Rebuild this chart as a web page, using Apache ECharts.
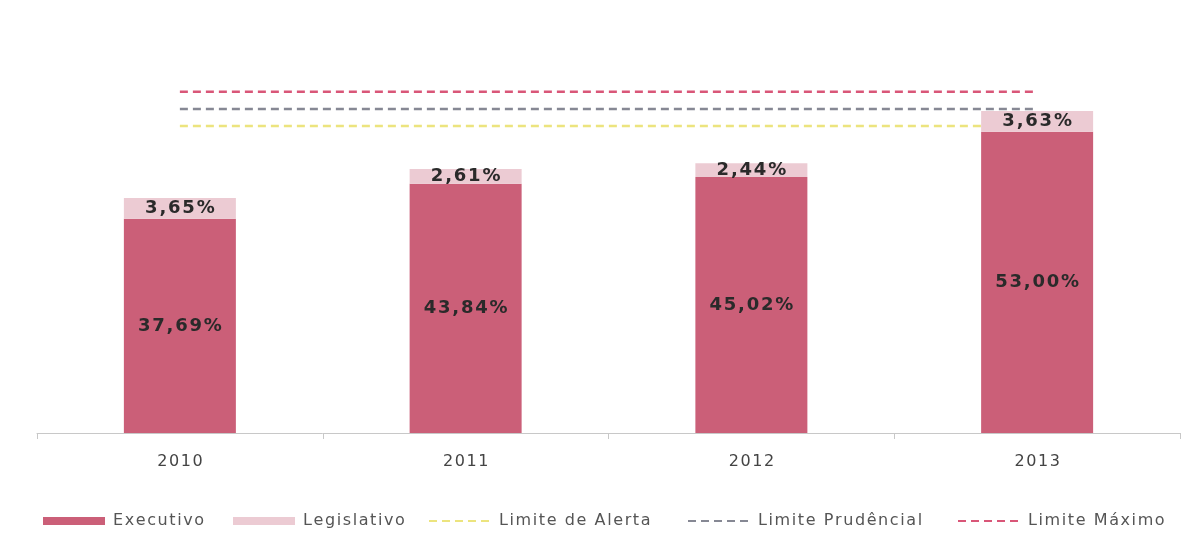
<!DOCTYPE html>
<html>
<head>
	<meta charset="utf-8">
	<title>Despesa com pessoal</title>
	<script src="https://cdn.jsdelivr.net/npm/echarts@6/dist/echarts.min.js"></script>
	<style>
		body { margin: 0; background: #fff; }
	</style>
</head>
<body>
	<div id="main" style="width: 1202px;height: 552px;"></div>
</body>

<script>
	// dados
	var anos = ['2010', '2011', '2012', '2013'];
	var executivo = [37.69, 43.84, 45.02, 53.00];
	var legislativo = [3.65, 2.61, 2.44, 3.63];
	var limiteAlerta = [54, 54, 54, 54];
	var limitePrudencial = [57, 57, 57, 57];
	var limiteMaximo = [60, 60, 60, 60];

	// espaco bem fino entre letras, imita o texto espacado do original
	function espaco(txt) {
		return txt.split('').join('\u200A');
	}
	function pct(v) {
		return espaco(v.toFixed(2).replace('.', ',') + '%');
	}

	var fonte = 'DejaVu Sans';
	var rotulo = {
		show: true,
		position: 'inside',
		color: '#2a2a2a',
		fontFamily: fonte,
		fontWeight: 'bold',
		fontSize: 18,
		formatter: function (p) { return pct(p.value); }
	};

	function linha(nome, dados, cor) {
		return {
			name: nome,
			type: 'line',
			data: dados,
			symbol: 'none',
			z: 1,
			silent: true,
			lineStyle: { color: cor, width: 2.5, type: [8, 5] },
			itemStyle: { color: cor }
		};
	}

	// uma legenda por item, para acertar as posicoes
	function legenda(nome, x, icone) {
		var l = {
			data: [nome],
			left: x,
			top: 508,
			itemWidth: 62,
			itemHeight: 8,
			itemGap: 0,
			textStyle: { color: '#555', fontFamily: fonte, fontSize: 16, padding: [0, 0, 0, 3] },
			formatter: function (n) { return espaco(n); }
		};
		if (icone) {
			l.icon = icone;
		} else {
			// sem o ponto no meio do traco
			l.itemStyle = { opacity: 0 };
		}
		return l;
	}

	var option = {
		backgroundColor: '#ffffff',
		animation: false,
		grid: { left: 37, right: 22, top: 35, bottom: 119 },
		legend: [
			legenda('Executivo', 38, 'rect'),
			legenda('Legislativo', 228, 'rect'),
			legenda('Limite de Alerta', 423),
			legenda('Limite Prudêncial', 682),
			legenda('Limite Máximo', 952)
		],
		xAxis: {
			type: 'category',
			data: anos,
			axisLine: { lineStyle: { color: '#c8c8c8', width: 1 } },
			axisTick: { show: true, length: 6, lineStyle: { color: '#c8c8c8' } },
			axisLabel: {
				color: '#444',
				fontFamily: fonte,
				fontSize: 16,
				margin: 21,
				formatter: function (v) { return espaco(v); }
			}
		},
		yAxis: {
			type: 'value',
			min: 0,
			max: 70,
			show: false,
			splitLine: { show: false }
		},
		series: [
			{
				name: 'Executivo',
				type: 'bar',
				stack: 'total',
				barWidth: 112,
				data: executivo,
				z: 3,
				itemStyle: { color: '#cb5f78' },
				label: rotulo
			},
			{
				name: 'Legislativo',
				type: 'bar',
				stack: 'total',
				barWidth: 112,
				data: legislativo,
				z: 3,
				itemStyle: { color: '#eccbd3' },
				label: rotulo
			},
			linha('Limite de Alerta', limiteAlerta, '#ece47e'),
			linha('Limite Prudêncial', limitePrudencial, '#868894'),
			linha('Limite Máximo', limiteMaximo, '#d95678')
		]
	};

	var chart = echarts.init(document.getElementById('main'));
	chart.setOption(option);
</script>
</html>
